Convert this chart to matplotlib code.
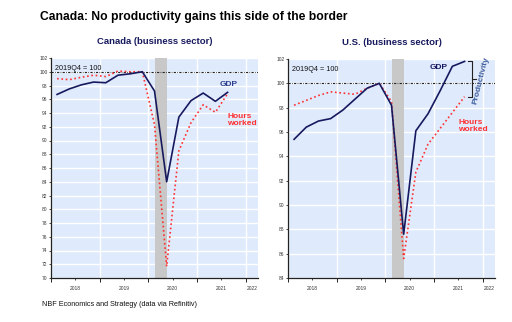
import numpy as np
import matplotlib
matplotlib.use("Agg")
import matplotlib.pyplot as plt

# quarterly data, 2019Q4 = 100
quarters = ["2018Q1", "2018Q2", "2018Q3", "2018Q4", "2019Q1", "2019Q2", "2019Q3", "2019Q4",
            "2020Q1", "2020Q2", "2020Q3", "2020Q4", "2021Q1", "2021Q2", "2021Q3"]
can_gdp = [96.7, 97.5, 98.1, 98.5, 98.4, 99.5, 99.7, 100.0, 97.2, 84.0, 93.4, 95.8, 96.9, 95.7, 97.0]
can_hours = [99.0, 98.85, 99.2, 99.5, 99.3, 100.1, 100.0, 100.0, 92.3, 71.7, 88.5, 92.6, 95.2, 94.1, 96.8]
us_gdp = [95.4, 96.4, 96.9, 97.1, 97.8, 98.7, 99.6, 100.0, 98.2, 87.6, 96.1, 97.5, 99.4, 101.4, 101.8]
us_hours = [98.2, 98.6, 99.0, 99.3, 99.2, 99.1, 99.6, 100.0, 98.5, 85.6, 92.7, 95.0, 96.3, 97.6, 98.9]
years = [2018, 2019, 2020, 2021, 2022]
recession = (2020.13, 2020.38)


def qpos(q):
    return int(q[:4]) + (int(q[-1]) - 0.5) / 4


x = np.array([qpos(q) for q in quarters])

plt.rcParams["font.family"] = ["Liberation Sans", "DejaVu Sans"]

NAVY = "#17195e"
RED = "#ff3030"
BG = "#dfeafc"

fig = plt.figure(figsize=(5.12, 3.22), dpi=100)
fig.patch.set_facecolor("white")

ax1 = fig.add_axes([51 / 512, 1 - 278 / 322, 207 / 512, 220 / 322])
ax2 = fig.add_axes([288 / 512, 1 - 278 / 322, 207 / 512, 219 / 322])


def style(ax, ylo, yhi, title):
    ax.set_facecolor(BG)
    ax.set_xlim(2018, 2022.25)
    ax.set_ylim(ylo, yhi)
    for s in ["top", "right"]:
        ax.spines[s].set_visible(False)
    for s in ["left", "bottom"]:
        ax.spines[s].set_linewidth(0.9)
        ax.spines[s].set_color("#222222")
    yt = np.arange(ylo, yhi + 1, 2)
    ax.set_yticks(yt)
    ax.set_yticklabels([str(v) for v in yt], fontsize=3.5, color="#333333")
    ax.set_xticks(years)
    ax.set_xticklabels([])
    ax.set_xticks([y + 0.5 for y in years[:-1]], minor=True)
    ax.tick_params(axis="x", which="major", length=3, width=0.6)
    ax.tick_params(axis="x", which="minor", length=1.5, width=0.5)
    ax.tick_params(axis="y", length=1.5, width=0.5, pad=1)
    for v in yt:
        ax.axhline(v, color="white", lw=1.0, zorder=0.5)
    for y in years:
        ax.axvline(y, color="white", lw=1.0, zorder=0.5)
    ax.axvspan(*recession, color="#c8c8c8", lw=0, zorder=0.8)
    ax.axhline(100, color="#222222", lw=0.8, ls=(0, (2, 1.2, 0.6, 1.2)), zorder=1)
    tr = ax.get_xaxis_transform()
    for y in years[:-1]:
        ax.text(y + 0.5, -0.035, str(y), transform=tr, ha="center", va="top",
                fontsize=3.5, color="#333333")
    ax.text(2022.125, -0.035, "2022", transform=tr, ha="center", va="top",
            fontsize=3.5, color="#333333")
    ax.text(0.02, 0.97, "2019Q4 = 100", transform=ax.transAxes, ha="left", va="top",
            fontsize=5.2, color="#111111")
    ax.set_title(title, fontsize=6.8, fontweight="bold", color=NAVY, pad=10)


style(ax1, 70, 102, "Canada (business sector)")
style(ax2, 84, 102, "U.S. (business sector)")

ax1.plot(x, can_hours, color=RED, lw=1.2, ls=(0, (1, 1.6)), zorder=3)
ax1.plot(x, can_gdp, color=NAVY, lw=1.2, zorder=4)
ax1.text(2021.65, 97.9, "GDP", color="#2b3d8f", fontsize=6, fontweight="bold", ha="center")
ax1.text(2021.62, 91.9, "Hours\nworked", color=RED, fontsize=6, fontweight="bold",
         ha="left", va="bottom", linespacing=1.1)

ax2.plot(x, us_hours, color=RED, lw=1.2, ls=(0, (1, 1.6)), zorder=3)
ax2.plot(x, us_gdp, color=NAVY, lw=1.2, zorder=4)
ax2.text(2021.1, 101.2, "GDP", color=NAVY, fontsize=6, fontweight="bold", ha="center")
ax2.text(2021.5, 95.9, "Hours\nworked", color=RED, fontsize=6, fontweight="bold",
         ha="left", va="bottom", linespacing=1.1)

# productivity bracket between GDP and hours at last quarter
bx0, bx1 = 2021.69, 2021.78
top, bot = us_gdp[-1], us_hours[-1]
mid = (top + bot) / 2
ax2.plot([bx0, bx1, bx1, bx0], [top, top, bot, bot], color="#222222", lw=0.8, zorder=5)
ax2.plot([bx1, bx1 + 0.07], [mid, mid], color="#222222", lw=0.8, zorder=5)
ax2.text(2021.97, mid - 0.1, "Productivity", rotation=76, color="#3a5a9a", fontsize=6,
         fontweight="bold", ha="center", va="center")

fig.text(40 / 512, 1 - 17 / 322, "Canada: No productivity gains this side of the border",
         fontsize=8.7, fontweight="bold", ha="left", va="center", color="black")
fig.text(42 / 512, 1 - 304 / 322, "NBF Economics and Strategy (data via Refinitiv)",
         fontsize=5.2, ha="left", va="center", color="#111111")

fig.savefig("out.png", dpi=100)
